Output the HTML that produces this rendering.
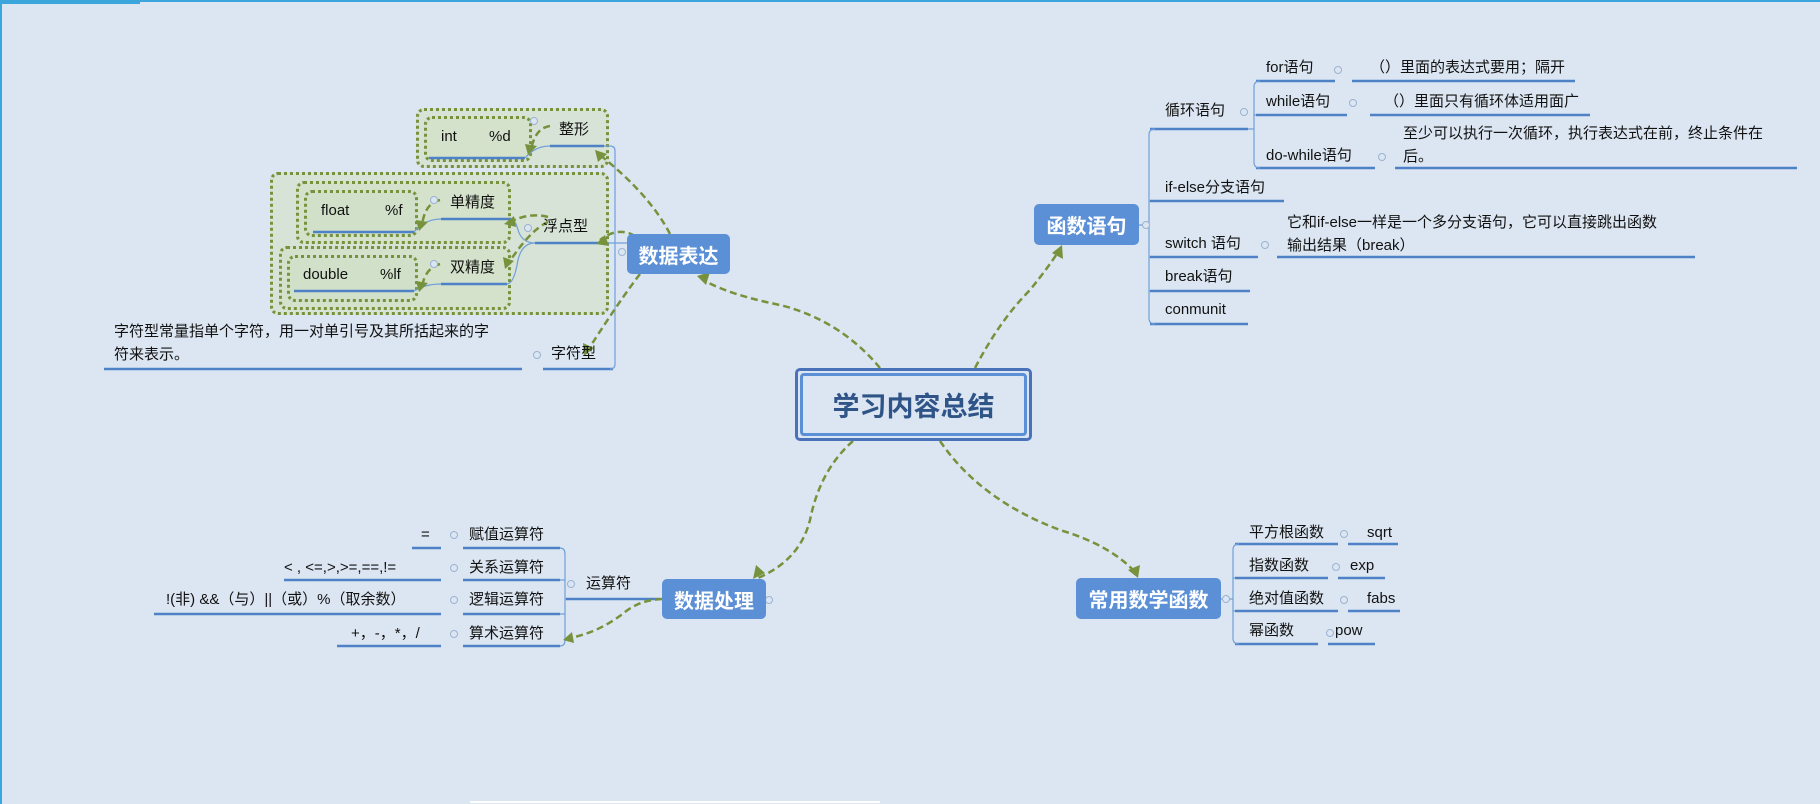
<!DOCTYPE html>
<html><head><meta charset="utf-8"><style>
body{margin:0;width:1820px;height:804px;background:#dce6f2;position:relative;overflow:hidden;font-family:"Liberation Sans","Noto Sans CJK SC",sans-serif;}
.t{position:absolute;font-size:15px;line-height:20px;height:20px;white-space:nowrap;color:#111;}
.t2{position:absolute;font-size:15px;line-height:23px;color:#111;white-space:nowrap;}
.n{position:absolute;background:#5b8fd6;color:#fff;font-weight:bold;font-size:20px;border-radius:5px;display:flex;align-items:center;justify-content:center;}
.box{position:absolute;border:3px dotted #77923c;border-radius:8px;box-sizing:border-box;}
svg{position:absolute;left:0;top:0;}
</style></head><body>
<div style="position:absolute;left:0;top:0;width:1820px;height:2px;background:#3aa6dc"></div>
<div style="position:absolute;left:0;top:0;width:140px;height:4px;background:#3aa6dc"></div>
<div style="position:absolute;left:0;top:0;width:2px;height:804px;background:#3aa6dc"></div>
<div style="position:absolute;left:470px;top:801px;width:410px;height:2px;background:#fff"></div>

<!-- dotted group boxes -->
<div class="box" style="left:416px;top:108px;width:193px;height:60px;background:#d6e3d6"></div>
<div class="box" style="left:424px;top:116px;width:108px;height:46px;background:#d4e2cc"></div>
<div class="box" style="left:270px;top:172px;width:339px;height:143px;background:#d6e3d6"></div>
<div class="box" style="left:296px;top:181px;width:215px;height:63px;background:#d4e2cc"></div>
<div class="box" style="left:304px;top:190px;width:114px;height:47px;background:#d1e0c8"></div>
<div class="box" style="left:279px;top:246px;width:232px;height:64px;background:#d4e2cc"></div>
<div class="box" style="left:287px;top:255px;width:131px;height:47px;background:#d1e0c8"></div>

<svg width="1820" height="804">
<g stroke="#4f81c7" stroke-width="2.5" fill="none">
<!-- left underlines -->
<line x1="429" y1="158" x2="525" y2="158"/>
<line x1="550" y1="146" x2="604" y2="146"/>
<line x1="313" y1="232" x2="414" y2="232"/>
<line x1="441" y1="219" x2="511" y2="219"/>
<line x1="294" y1="291" x2="414" y2="291"/>
<line x1="441" y1="284" x2="507" y2="284"/>
<line x1="535" y1="243" x2="604" y2="243"/>
<line x1="543" y1="369" x2="613" y2="369"/>
<line x1="104" y1="369" x2="522" y2="369"/>
<!-- right function -->
<line x1="1150" y1="129" x2="1248" y2="129"/>
<line x1="1256" y1="81" x2="1335" y2="81"/><line x1="1352" y1="81" x2="1575" y2="81"/>
<line x1="1256" y1="115" x2="1347" y2="115"/><line x1="1370" y1="115" x2="1590" y2="115"/>
<line x1="1256" y1="168" x2="1375" y2="168"/><line x1="1395" y1="168" x2="1797" y2="168"/>
<line x1="1150" y1="201" x2="1284" y2="201"/>
<line x1="1150" y1="257" x2="1258" y2="257"/><line x1="1277" y1="257" x2="1695" y2="257"/>
<line x1="1150" y1="291" x2="1250" y2="291"/>
<line x1="1150" y1="324" x2="1248" y2="324"/>
<!-- math -->
<line x1="1235" y1="544" x2="1338" y2="544"/><line x1="1348" y1="544" x2="1398" y2="544"/>
<line x1="1235" y1="578" x2="1328" y2="578"/><line x1="1338" y1="578" x2="1385" y2="578"/>
<line x1="1235" y1="611" x2="1338" y2="611"/><line x1="1348" y1="611" x2="1400" y2="611"/>
<line x1="1235" y1="644" x2="1318" y2="644"/><line x1="1328" y1="644" x2="1375" y2="644"/>
<!-- processing -->
<line x1="566" y1="599" x2="660" y2="599"/>
<line x1="412" y1="548" x2="441" y2="548"/><line x1="463" y1="548" x2="560" y2="548"/>
<line x1="284" y1="580" x2="441" y2="580"/><line x1="463" y1="580" x2="560" y2="580"/>
<line x1="154" y1="614" x2="441" y2="614"/><line x1="463" y1="614" x2="560" y2="614"/>
<line x1="337" y1="646" x2="441" y2="646"/><line x1="463" y1="646" x2="560" y2="646"/>
</g>
<g stroke="#6f9fd8" stroke-width="1.2" fill="none">
<path d="M604 146 H610 Q615 146 615 151 V364 Q615 369 610 369"/>
<path d="M604 243 H627"/>
<path d="M525 158 Q535 146 550 146"/>
<path d="M535 243 Q522 243 518 230 Q515 219 511 219"/>
<path d="M535 243 Q522 243 518 260 Q514 284 507 284"/>
<path d="M414 232 Q425 219 441 219"/>
<path d="M414 291 Q425 284 441 284"/>
<path d="M1139 225 H1149 M1155 129 Q1149 129 1149 135 V318 Q1149 324 1155 324"/>
<path d="M1149 201 H1150 M1149 257 H1150 M1149 291 H1150"/>
<path d="M1248 129 H1254 M1260 81 Q1254 81 1254 87 V162 Q1254 168 1260 168 M1254 115 H1256"/>
<path d="M1221 599 H1233 M1239 544 Q1233 544 1233 550 V638 Q1233 644 1239 644 M1233 578 H1235 M1233 611 H1235"/>
<path d="M560 548 Q565 548 565 554 V640 Q565 646 560 646 M565 580 H560 M565 614 H560 M565 599 H566"/>
</g>
<g stroke="#77923c" stroke-width="2.5" fill="none" stroke-dasharray="7,4">
<path d="M880 368 Q840 320 780 305 Q730 295 703 280"/>
<path d="M975 368 Q1000 320 1030 290 Q1050 265 1058 252"/>
<path d="M853 441 Q820 470 810 520 Q800 560 758 578"/>
<path d="M940 441 Q980 500 1060 530 Q1110 545 1135 572"/>
<path d="M670 234 Q650 195 600 155"/>
<path d="M635 236 Q618 226 600 240"/>
<path d="M640 274 Q620 300 588 350"/>
<path d="M548 217 Q530 212 510 222"/>
<path d="M548 222 Q530 230 508 264"/>
<path d="M440 200 Q425 203 422 225"/>
<path d="M440 264 Q425 268 422 287"/>
<path d="M550 126 Q535 128 531 150"/>
<path d="M662 599 Q640 600 625 612 Q600 632 570 638"/>
</g>
<g fill="#77923c">
<polygon points="697,276 710,272 706,285"/>
<polygon points="1062,245 1063,259 1052,253"/>
<polygon points="753,579 756,565 765,573"/>
<polygon points="1138,578 1128,570 1140,565"/>
<polygon points="595,150 607,154 598,162"/>
<polygon points="596,244 605,235 609,246"/>
<polygon points="584,356 583,343 594,348"/>
<polygon points="504,224 514,216 516,227"/>
<polygon points="505,269 503,257 514,261"/>
<polygon points="419,231 416,220 428,222"/>
<polygon points="419,292 416,281 428,283"/>
<polygon points="528,155 525,144 537,146"/>
<polygon points="563,640 572,632 574,643"/>
</g>
<g fill="#dce6f2" stroke="#9bb2d0" stroke-width="1">
<circle cx="534" cy="121" r="3.5"/><circle cx="434" cy="200" r="3.5"/><circle cx="434" cy="264" r="3.5"/>
<circle cx="528" cy="228" r="3.5"/><circle cx="622" cy="252" r="3.5"/><circle cx="537" cy="355" r="3.5"/>
<circle cx="1146" cy="225" r="3.5"/><circle cx="1244" cy="112" r="3.5"/><circle cx="1338" cy="70" r="3.5"/>
<circle cx="1353" cy="103" r="3.5"/><circle cx="1382" cy="157" r="3.5"/><circle cx="1265" cy="245" r="3.5"/>
<circle cx="1226" cy="599" r="3.5"/><circle cx="1344" cy="534" r="3.5"/><circle cx="1336" cy="567" r="3.5"/>
<circle cx="1344" cy="600" r="3.5"/><circle cx="1330" cy="633" r="3.5"/>
<circle cx="769" cy="600" r="3.5"/><circle cx="571" cy="584" r="3.5"/>
<circle cx="454" cy="535" r="3.5"/><circle cx="454" cy="568" r="3.5"/><circle cx="454" cy="600" r="3.5"/><circle cx="454" cy="634" r="3.5"/>
</g>
</svg>

<!-- central -->
<div style="position:absolute;left:795px;top:368px;width:237px;height:73px;border:3px solid #4a72b8;border-radius:5px;box-sizing:border-box;background:#dce6f2"></div>
<div style="position:absolute;left:800px;top:373px;width:227px;height:63px;border:3px solid #5b8fd6;border-radius:4px;box-sizing:border-box;display:flex;align-items:center;justify-content:center;font-size:27px;font-weight:bold;color:#2f5488">学习内容总结</div>

<div class="n" style="left:627px;top:234px;width:103px;height:40px">数据表达</div>
<div class="n" style="left:1034px;top:204px;width:105px;height:41px">函数语句</div>
<div class="n" style="left:662px;top:579px;width:104px;height:40px">数据处理</div>
<div class="n" style="left:1076px;top:578px;width:145px;height:41px">常用数学函数</div>

<!-- left texts -->
<div class="t" style="left:441px;top:127px">int</div><div class="t" style="left:489px;top:127px">%d</div>
<div class="t" style="left:559px;top:120px">整形</div>
<div class="t" style="left:321px;top:201px">float</div><div class="t" style="left:385px;top:201px">%f</div>
<div class="t" style="left:450px;top:193px">单精度</div>
<div class="t" style="left:303px;top:265px">double</div><div class="t" style="left:380px;top:265px">%lf</div>
<div class="t" style="left:450px;top:258px">双精度</div>
<div class="t" style="left:543px;top:217px">浮点型</div>
<div class="t" style="left:551px;top:344px">字符型</div>
<div class="t2" style="left:114px;top:320px">字符型常量指单个字符，用一对单引号及其所括起来的字<br>符来表示。</div>

<!-- function texts -->
<div class="t" style="left:1165px;top:101px">循环语句</div>
<div class="t" style="left:1266px;top:58px">for语句</div>
<div class="t" style="left:1370px;top:58px">（）里面的表达式要用；隔开</div>
<div class="t" style="left:1266px;top:92px">while语句</div>
<div class="t" style="left:1384px;top:92px">（）里面只有循环体适用面广</div>
<div class="t" style="left:1266px;top:146px">do-while语句</div>
<div class="t2" style="left:1403px;top:122px">至少可以执行一次循环，执行表达式在前，终止条件在<br>后。</div>
<div class="t" style="left:1165px;top:178px">if-else分支语句</div>
<div class="t" style="left:1165px;top:234px">switch 语句</div>
<div class="t2" style="left:1287px;top:211px">它和if-else一样是一个多分支语句，它可以直接跳出函数<br>输出结果（break）</div>
<div class="t" style="left:1165px;top:267px">break语句</div>
<div class="t" style="left:1165px;top:300px">conmunit</div>

<!-- math -->
<div class="t" style="left:1249px;top:523px">平方根函数</div><div class="t" style="left:1367px;top:523px">sqrt</div>
<div class="t" style="left:1249px;top:556px">指数函数</div><div class="t" style="left:1350px;top:556px">exp</div>
<div class="t" style="left:1249px;top:589px">绝对值函数</div><div class="t" style="left:1367px;top:589px">fabs</div>
<div class="t" style="left:1249px;top:621px">幂函数</div><div class="t" style="left:1335px;top:621px">pow</div>

<!-- processing -->
<div class="t" style="left:586px;top:574px">运算符</div>
<div class="t" style="left:469px;top:525px">赋值运算符</div><div class="t" style="left:421px;top:525px">=</div>
<div class="t" style="left:469px;top:558px">关系运算符</div><div class="t" style="left:284px;top:558px">&lt; , &lt;=,&gt;,&gt;=,==,!=</div>
<div class="t" style="left:469px;top:590px">逻辑运算符</div><div class="t" style="left:166px;top:590px">!(非) &amp;&amp;（与）||（或）%（取余数）</div>
<div class="t" style="left:469px;top:624px">算术运算符</div><div class="t" style="left:351px;top:624px">+，-，*，/</div>
</body></html>
